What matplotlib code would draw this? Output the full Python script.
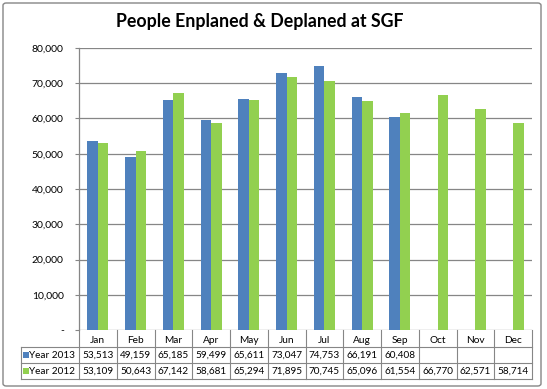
import matplotlib
matplotlib.use("Agg")
import matplotlib.pyplot as plt
from matplotlib.patches import FancyBboxPatch, Rectangle
import numpy as np

months = ["Jan", "Feb", "Mar", "Apr", "May", "Jun", "Jul", "Aug", "Sep", "Oct", "Nov", "Dec"]
year2013 = [53513, 49159, 65185, 59499, 65611, 73047, 74753, 66191, 60408, None, None, None]
year2012 = [53109, 50643, 67142, 58681, 65294, 71895, 70745, 65096, 61554, 66770, 62571, 58714]
series_names = ["Year 2013", "Year 2012"]
yticks = [0, 10000, 20000, 30000, 40000, 50000, 60000, 70000, 80000]
title = "People Enplaned & Deplaned at SGF"

BLUE = "#4F81BD"
GREEN = "#92D050"
GRID = "#868686"
FONT = "Lato"

W, H = 547, 389
fig = plt.figure(figsize=(W / 100, H / 100), dpi=100)

# axes geometry in pixels
L, R, T, B = 79, 532, 48, 330
ax = fig.add_axes([L / W, 1 - B / H, (R - L) / W, (B - T) / H])

x = np.arange(len(months))
bw = 0.28
v13 = [np.nan if v is None else v for v in year2013]
ax.bar(x - bw / 2, v13, width=bw, color=BLUE, zorder=3)
ax.bar(x + bw / 2, year2012, width=bw, color=GREEN, zorder=3)

ax.set_xlim(-0.5, len(months) - 0.5)
ax.set_ylim(0, 80000)
ax.set_yticks(yticks)
ax.set_yticklabels(["-" if v == 0 else f"{v:,}" for v in yticks],
                   fontfamily=FONT, fontsize=7.5)
ax.set_xticks(x)
ax.set_xticklabels(months, fontfamily=FONT, fontsize=7.3)
ax.tick_params(axis="x", length=0, pad=4)
ax.tick_params(axis="y", length=3, width=0.8, color=GRID, pad=8)
ax.grid(axis="y", color=GRID, linewidth=0.9, zorder=0)
for s in ["top", "right", "bottom"]:
    ax.spines[s].set_visible(False)
ax.spines["left"].set_color(GRID)
ax.spines["left"].set_linewidth(0.9)

# --- data table drawn in pixel coordinates ---
def fy(py):
    return 1 - py / H

def fx(px):
    return px / W

lc = GRID
lw = 0.8
rows_y = [347, 363, 379]
for py in rows_y:
    fig.add_artist(plt.Line2D([fx(20.5), fx(R)], [fy(py), fy(py)], color=lc, lw=lw))
fig.add_artist(plt.Line2D([fx(20.5), fx(20.5)], [fy(347), fy(379)], color=lc, lw=lw))
for i in range(len(months) + 1):
    px = L + (R - L) * i / len(months)
    fig.add_artist(plt.Line2D([fx(px), fx(px)], [fy(B), fy(379)], color=lc, lw=lw))

row_centers = [355, 371]
for name, vals, col, cy in zip(series_names, [year2013, year2012], [BLUE, GREEN], row_centers):
    fig.add_artist(Rectangle((fx(22.5), fy(cy + 3)), 6 / W, 6 / H, color=col, lw=0))
    fig.text(fx(29), fy(cy), name, fontfamily=FONT, fontsize=7.2, va="center", ha="left")
    for i, v in enumerate(vals):
        if v is None:
            continue
        cx = L + (R - L) * (i + 0.5) / len(months)
        fig.text(fx(cx), fy(cy), f"{v:,}", fontfamily=FONT, fontsize=7.2,
                 va="center", ha="center")

fig.text(fx(260), fy(22), title, fontfamily=FONT, fontweight="bold",
         fontsize=12.8, ha="center", va="center")

fig.add_artist(FancyBboxPatch((fx(3), fy(386)), (541 - 3) / W, (386 - 3) / H,
                              boxstyle="round,pad=0,rounding_size=0.006",
                              fill=False, edgecolor=GRID, lw=1.0,
                              transform=fig.transFigure))

fig.savefig("out.png", dpi=100)
